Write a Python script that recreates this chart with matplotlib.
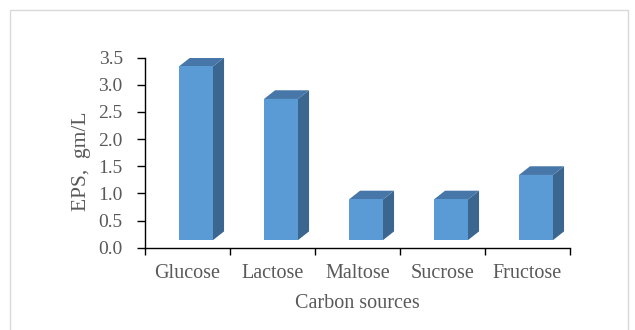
import matplotlib
matplotlib.use("Agg")
import matplotlib.pyplot as plt
from matplotlib.patches import Polygon, Rectangle
import numpy as np

categories = ["Glucose", "Lactose", "Maltose", "Sucrose", "Fructose"]
eps_values = [3.2, 2.6, 0.75, 0.75, 1.2]
y_ticks = [0.0, 0.5, 1.0, 1.5, 2.0, 2.5, 3.0, 3.5]

W, H = 635, 330
fig = plt.figure(figsize=(W / 100, H / 100), dpi=100)
plt.rcParams["font.family"] = ["Liberation Serif", "DejaVu Serif"]

# outer chart frame
fig.patches.append(Rectangle((10 / W, -0.05), 618 / W, 1.05 - 10 / H,
                             transform=fig.transFigure, fill=False,
                             edgecolor="#D9D9D9", linewidth=1.0))

left, right = 145 / W, 570 / W
bottom, top = 1 - 247.7 / H, 1 - 57.7 / H
ax = fig.add_axes([left, bottom, right - left, top - bottom])

ax.set_xlim(-0.5, len(categories) - 0.5)
ax.set_ylim(0, 3.5)

front_c = "#5B9BD5"
top_c = "#4677A8"
side_c = "#3A6690"

floor = 0.14      # floor lift of the box front
x0_off, x1_off = -0.1, 0.3
dx, dy = 0.13, 0.16

for i, v in enumerate(eps_values):
    xa, xb = i + x0_off, i + x1_off
    y0, y1 = floor, floor + v
    ax.add_patch(Polygon([(xb, y0), (xb + dx, y0 + dy), (xb + dx, y1 + dy), (xb, y1)],
                         closed=True, facecolor=side_c, edgecolor="none"))
    ax.add_patch(Polygon([(xa, y1), (xb, y1), (xb + dx, y1 + dy), (xa + dx, y1 + dy)],
                         closed=True, facecolor=top_c, edgecolor="none"))
    ax.add_patch(Rectangle((xa, y0), xb - xa, v, facecolor=front_c, edgecolor="none"))

for s in ("top", "right"):
    ax.spines[s].set_visible(False)
for s in ("left", "bottom"):
    ax.spines[s].set_color("#000000")
    ax.spines[s].set_linewidth(1.0)

ax.set_yticks(y_ticks)
ax.set_yticklabels([f"{t:.1f}" for t in y_ticks])
ax.tick_params(axis="y", direction="out", length=6, width=1.0, pad=10,
               labelsize=14, labelcolor="#595959", color="#000000")

ax.set_xticks(np.arange(len(categories)))
ax.set_xticklabels(categories)
ax.set_xticks(np.arange(len(categories) + 1) - 0.5, minor=True)
ax.tick_params(axis="x", which="major", length=0, pad=12,
               labelsize=14.5, labelcolor="#595959")
ax.tick_params(axis="x", which="minor", direction="out", length=5, width=1.0,
               color="#000000")

ax.set_xlabel("Carbon sources", fontsize=14.5, color="#595959", labelpad=8)
ax.set_ylabel("EPS,  gm/L", fontsize=15.5, color="#595959")
ax.yaxis.set_label_coords(-0.128, 0.456)

fig.savefig("out.png", dpi=100)
